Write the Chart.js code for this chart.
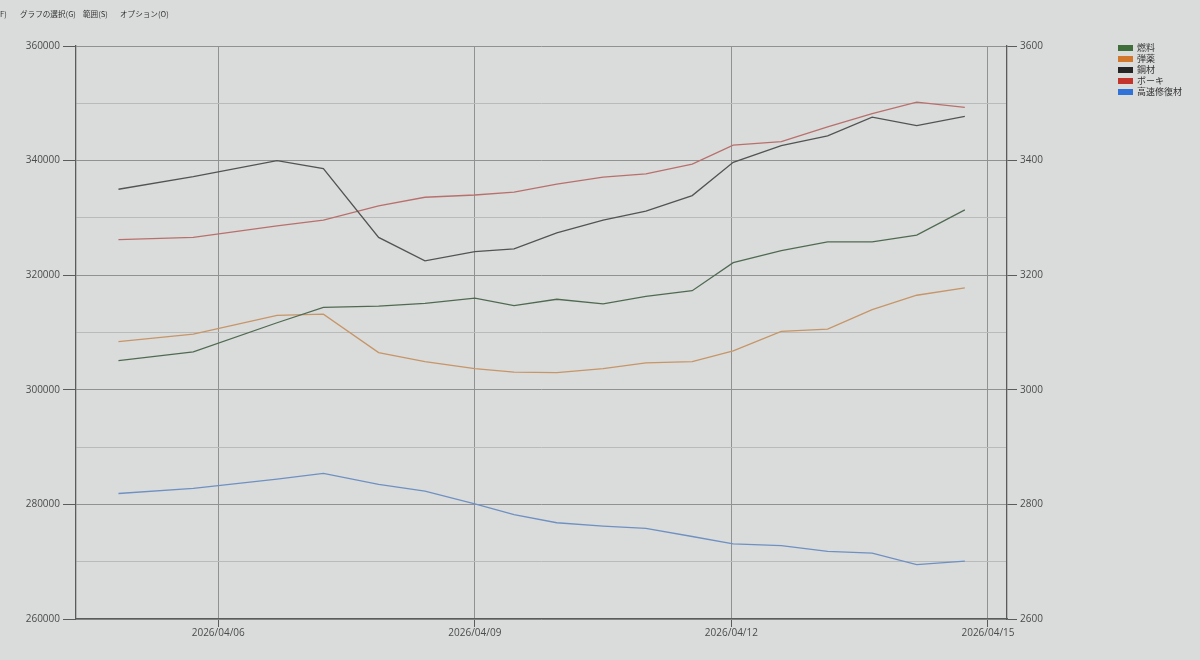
<!DOCTYPE html>
<html>
<head>
<meta charset="utf-8">
<script src="https://cdn.jsdelivr.net/npm/chart.js@4.4.1/dist/chart.umd.min.js"></script>
<style>
  html, body { margin: 0; padding: 0; background: #dadcdb; }
  #wrap { position: relative; width: 1200px; height: 660px; overflow: hidden; background: #dadcdb; }
  #c { position: absolute; left: 0; top: 0; }
  .menu { position: absolute; top: 8px; font: 7.6px "Noto Sans CJK JP", sans-serif; color: #333; white-space: nowrap; }
  #legend { position: absolute; left: 1118px; top: 42px; font: 9px "Noto Sans CJK JP", sans-serif; color: #333; }
  #legend .item { display: flex; align-items: center; height: 11px; }
  #legend .box { width: 15px; height: 6px; margin-right: 4px; }
</style>
</head>
<body>
<div id="wrap">
  <canvas id="c" width="1200" height="660"></canvas>
  <span class="menu" style="left:0px">F)</span>
  <span class="menu" style="left:20px">グラフの選択(G)</span>
  <span class="menu" style="left:83px">範囲(S)</span>
  <span class="menu" style="left:120px">オプション(O)</span>
  <div id="legend"></div>
</div>
<script>
// ---- data ----
const times = [
  "2026-04-04T20:00", "2026-04-05T17:00", "2026-04-06T16:30", "2026-04-07T05:30",
  "2026-04-07T21:00", "2026-04-08T10:00", "2026-04-09T00:00", "2026-04-09T11:00",
  "2026-04-09T23:00", "2026-04-10T12:00", "2026-04-11T00:00", "2026-04-11T13:00",
  "2026-04-12T00:30", "2026-04-12T14:00", "2026-04-13T03:00", "2026-04-13T15:30",
  "2026-04-14T04:00", "2026-04-14T17:30"
];
const seriesNames = ["燃料", "弾薬", "鋼材", "ボーキ", "高速修復材"];
const fuel   = [305100, 306600, 311700, 314400, 314600, 315100, 316000, 314700, 315800, 315000, 316300, 317300, 322200, 324300, 325800, 325800, 327000, 331400];
const ammo   = [308400, 309700, 313000, 313200, 306500, 304900, 303700, 303100, 303000, 303700, 304700, 304900, 306800, 310200, 310600, 314000, 316500, 317800];
const steel  = [335000, 337200, 340000, 338600, 326600, 322500, 324100, 324600, 327400, 329600, 331200, 333900, 339700, 342600, 344300, 347600, 346100, 347700];
const baux   = [326200, 326600, 328600, 329600, 332100, 333600, 334000, 334500, 335900, 337100, 337700, 339400, 342700, 343300, 345900, 348200, 350200, 349300];
const repair = [2819, 2828, 2844, 2854, 2835, 2823, 2801, 2782, 2768, 2762, 2758, 2744, 2731, 2728, 2718, 2715, 2695, 2701];
const xTickDates = ["2026-04-06", "2026-04-09", "2026-04-12", "2026-04-15"];
const xRange = ["2026-04-04T08:05", "2026-04-15T05:20"];
const leftRange = [260000, 360000];
const rightRange = [2600, 3600];

// ---- styling ----
const legendColors = ["#3f6e3a", "#d2782c", "#252525", "#c2342c", "#2f72d8"];
const lineColors   = ["#506a52", "#c69568", "#525454", "#b8706d", "#6f90c2"];
const majorGrid = "#8f9291";
const minorGrid = "#b8bbba";
const axisColor = "#5a5c5b";
const labelColor = "#4a4c4b";
const tickFont = { family: "'Open Sans', 'Liberation Sans', sans-serif", size: 10 };

const toMs = s => Date.parse(s.length <= 10 ? s + "T00:00:00Z" : s + ":00Z");
const pts = arr => arr.map((v, i) => ({ x: toMs(times[i]), y: v }));
const pad2 = n => String(n).padStart(2, "0");
const fmtDate = ms => { const d = new Date(ms); return d.getUTCFullYear() + "/" + pad2(d.getUTCMonth() + 1) + "/" + pad2(d.getUTCDate()); };

const seriesData = [fuel, ammo, steel, baux, repair];
const datasets = seriesData.map((arr, i) => ({
  label: seriesNames[i],
  data: pts(arr),
  yAxisID: i === 4 ? "y1" : "y",
  borderColor: lineColors[i],
  backgroundColor: legendColors[i],
  borderWidth: 1.3,
  pointRadius: 0,
  tension: 0,
  fill: false
}));

// HTML legend
const lg = document.getElementById("legend");
seriesNames.forEach((n, i) => {
  const it = document.createElement("div"); it.className = "item";
  const b = document.createElement("div"); b.className = "box"; b.style.background = legendColors[i];
  const t = document.createElement("span"); t.textContent = n;
  it.appendChild(b); it.appendChild(t); lg.appendChild(it);
});

new Chart(document.getElementById("c"), {
  type: "line",
  data: { datasets },
  options: {
    responsive: false,
    animation: false,
    layout: { padding: { top: 46, left: 0, right: 0, bottom: 0 } },
    plugins: { legend: { display: false }, tooltip: { enabled: false } },
    scales: {
      x: {
        type: "linear",
        min: toMs(xRange[0]),
        max: toMs(xRange[1]),
        afterBuildTicks: ax => { ax.ticks = xTickDates.map(d => ({ value: toMs(d) })); },
        afterFit: ax => { ax.height = 41; },
        ticks: { callback: v => fmtDate(v), color: labelColor, font: tickFont, padding: 0, maxRotation: 0, autoSkip: false },
        grid: { color: majorGrid, tickColor: axisColor, tickLength: 8, lineWidth: 1 },
        border: { color: axisColor, width: 1.3 }
      },
      y: {
        position: "left",
        min: leftRange[0], max: leftRange[1],
        afterFit: ax => { ax.width = 76; },
        ticks: {
          stepSize: 10000,
          autoSkip: false,
          color: labelColor, font: tickFont, padding: 3,
          callback: v => (v % 20000 === 0 ? String(v) : "")
        },
        grid: {
          color: c => (c.tick && c.tick.value % 20000 === 0 ? majorGrid : minorGrid),
          tickColor: c => (c.tick && c.tick.value % 20000 === 0 ? axisColor : "rgba(0,0,0,0)"),
          tickLength: 13, lineWidth: 1
        },
        border: { color: axisColor, width: 1.3 }
      },
      y1: {
        position: "right",
        min: rightRange[0], max: rightRange[1],
        afterFit: ax => { ax.width = 193; },
        ticks: {
          stepSize: 100,
          autoSkip: false,
          color: labelColor, font: tickFont, padding: 3,
          callback: v => (v % 200 === 0 ? String(v) : "")
        },
        grid: {
          drawOnChartArea: false,
          tickColor: c => (c.tick && c.tick.value % 200 === 0 ? axisColor : "rgba(0,0,0,0)"),
          tickLength: 10
        },
        border: { color: axisColor, width: 1.3 }
      }
    }
  }
});
</script>
</body>
</html>
